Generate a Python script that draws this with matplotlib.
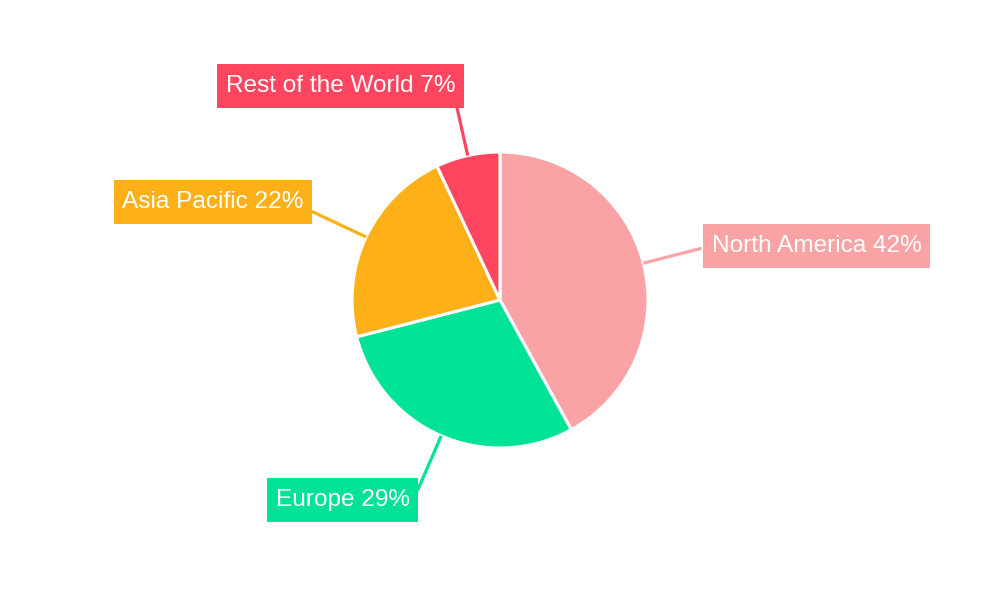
import matplotlib
matplotlib.use("Agg")
import matplotlib.pyplot as plt
import numpy as np

# data
regions = ["North America", "Europe", "Asia Pacific", "Rest of the World"]
shares = [42, 29, 22, 7]
colors = ["#F9A3A4", "#00E396", "#FEB019", "#FF4560"]

# small layout nudges for the label boxes (px, y up)
nudge = [(2, 3), (2, 10), (0, 11), (11, -8)]

plt.rcParams['font.family'] = ['Liberation Sans', 'DejaVu Sans']

fig = plt.figure(figsize=(10, 6), dpi=100)
ax = fig.add_axes([0, 0, 1, 1])

cx, cy, r = 500, 300, 148
wedges, _ = ax.pie(shares, colors=colors, startangle=90, counterclock=False,
                   center=(cx, cy), radius=r, frame=True,
                   wedgeprops=dict(edgecolor='white', linewidth=2.2))
ax.set_xlim(0, 1000)
ax.set_ylim(0, 600)
ax.axis('off')

# labels with connector lines
r_out = 205
pad = 11
for w, name, val, col, (nx, ny) in zip(wedges, regions, shares, colors, nudge):
    ang = np.deg2rad((w.theta1 + w.theta2) / 2)
    c, s = np.cos(ang), np.sin(ang)
    x0, y0 = cx + r * c, cy + r * s
    x1, y1 = cx + r_out * c, cy + r_out * s
    ax.plot([x0, x1 + 3 * c], [y0, y1 + 3 * s], color=col, lw=2.3,
            solid_capstyle='butt', zorder=1)
    ha = 'left' if c > 0 else 'right'
    tx = x1 + pad if c > 0 else x1 - pad
    if s > 0.8:
        va, ty = 'bottom', y1 + pad
    elif s < -0.8:
        va, ty = 'top', y1 - pad
    else:
        va, ty = 'center', y1
    ax.text(tx + nx, ty + ny, f"{name} {val}%", ha=ha, va=va, color='white',
            fontsize=17.6,
            bbox=dict(boxstyle='square,pad=0.35', fc=col, ec='none',
                      mutation_aspect=1.3), zorder=3)

fig.savefig("out.png", dpi=100)
